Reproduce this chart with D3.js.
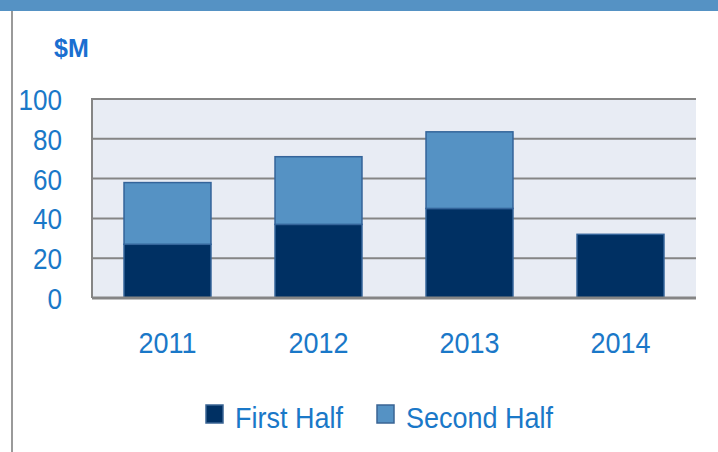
<!DOCTYPE html>
<html>
<head>
<meta charset="utf-8">
<script src="https://cdn.jsdelivr.net/npm/d3@7"></script>
<style>
  html, body { margin: 0; padding: 0; background: #fff; }
  svg { display: block; font-family: "Liberation Sans", Arial, sans-serif; }
</style>
</head>
<body>
<svg id="chart" width="718" height="452"></svg>
<script>
const years = ["2011", "2012", "2013", "2014"];
const firstHalf = [27, 37, 45, 32];
const secondHalf = [31, 34, 38.5, 0];
const yTicks = [0, 20, 40, 60, 80, 100];
const seriesNames = ["First Half", "Second Half"];
const seriesColors = ["#003063", "#5592c4"];

const width = 718, height = 452;
const margin = { top: 99, right: 22, bottom: 154, left: 92 };
const textBlue = "#1a78c8";
const squeeze = 0.9; // narrow look of the original font

const svg = d3.select("#chart");

// top band and left rule
svg.append("rect").attr("x", 0).attr("y", 0).attr("width", width).attr("height", 11).attr("fill", "#5592c4");
svg.append("line")
  .attr("x1", 12).attr("x2", 12).attr("y1", 11).attr("y2", height)
  .attr("stroke", "#9a9a9a").attr("stroke-width", 2);

const x = d3.scaleBand()
  .domain(years)
  .range([margin.left, width - margin.right])
  .paddingInner(0.424).paddingOuter(0.212);

const y = d3.scaleLinear()
  .domain([0, 100])
  .range([height - margin.bottom, margin.top]);

// plot background
svg.append("rect")
  .attr("x", margin.left).attr("y", margin.top)
  .attr("width", width - margin.right - margin.left)
  .attr("height", y(0) - y(100))
  .attr("fill", "#e8ecf4");

// gridlines
svg.append("g")
  .selectAll("line")
  .data(yTicks.filter(d => d > 0))
  .join("line")
  .attr("x1", margin.left).attr("x2", width - margin.right)
  .attr("y1", d => y(d)).attr("y2", d => y(d))
  .attr("stroke", "#858585").attr("stroke-width", 2);

// stacked bars
const rows = years.map((yr, i) => ({ year: yr, "First Half": firstHalf[i], "Second Half": secondHalf[i] }));
const stacked = d3.stack().keys(seriesNames)(rows);

svg.append("g")
  .selectAll("g")
  .data(stacked)
  .join("g")
  .attr("fill", (d, i) => seriesColors[i])
  .selectAll("rect")
  .data(d => d.filter(p => p[1] - p[0] > 0))
  .join("rect")
  .attr("x", d => x(d.data.year))
  .attr("y", d => y(d[1]))
  .attr("width", x.bandwidth())
  .attr("height", d => y(d[0]) - y(d[1]))
  .attr("stroke", "#34649a")
  .attr("stroke-width", 1.5);

// plot border: left, top, bottom
svg.append("path")
  .attr("d", `M${width - margin.right},${y(100)}H${margin.left}V${y(0)}`)
  .attr("fill", "none").attr("stroke", "#858585").attr("stroke-width", 2);
svg.append("line")
  .attr("x1", margin.left).attr("x2", width - margin.right)
  .attr("y1", y(0)).attr("y2", y(0))
  .attr("stroke", "#858585").attr("stroke-width", 3);

// y tick labels
svg.append("g")
  .selectAll("text")
  .data(yTicks)
  .join("text")
  .attr("transform", d => `translate(62,${y(d) + 11}) scale(${squeeze},1)`)
  .attr("text-anchor", "end")
  .attr("fill", textBlue)
  .style("font-size", "29px")
  .text(d => d);

// x labels
svg.append("g")
  .selectAll("text")
  .data(years)
  .join("text")
  .attr("transform", d => `translate(${x(d) + x.bandwidth() / 2},353) scale(${squeeze},1)`)
  .attr("text-anchor", "middle")
  .attr("fill", textBlue)
  .style("font-size", "30px")
  .text(d => d);

// unit label
svg.append("text")
  .attr("x", 54).attr("y", 57)
  .attr("fill", "#1a6fd0")
  .style("font-size", "25px")
  .style("font-weight", "bold")
  .text("$M");

// legend
const legendX = [206, 377];
const legend = svg.append("g")
  .selectAll("g")
  .data(seriesNames)
  .join("g")
  .attr("transform", (d, i) => `translate(${legendX[i]},405)`);
legend.append("rect")
  .attr("width", 17).attr("height", 18)
  .attr("fill", (d, i) => seriesColors[i])
  .attr("stroke", "#3a6494").attr("stroke-width", 1.5);
legend.append("text")
  .attr("transform", `translate(29,23) scale(${squeeze},1)`)
  .attr("fill", textBlue)
  .style("font-size", "30px")
  .text(d => d);
</script>
</body>
</html>
